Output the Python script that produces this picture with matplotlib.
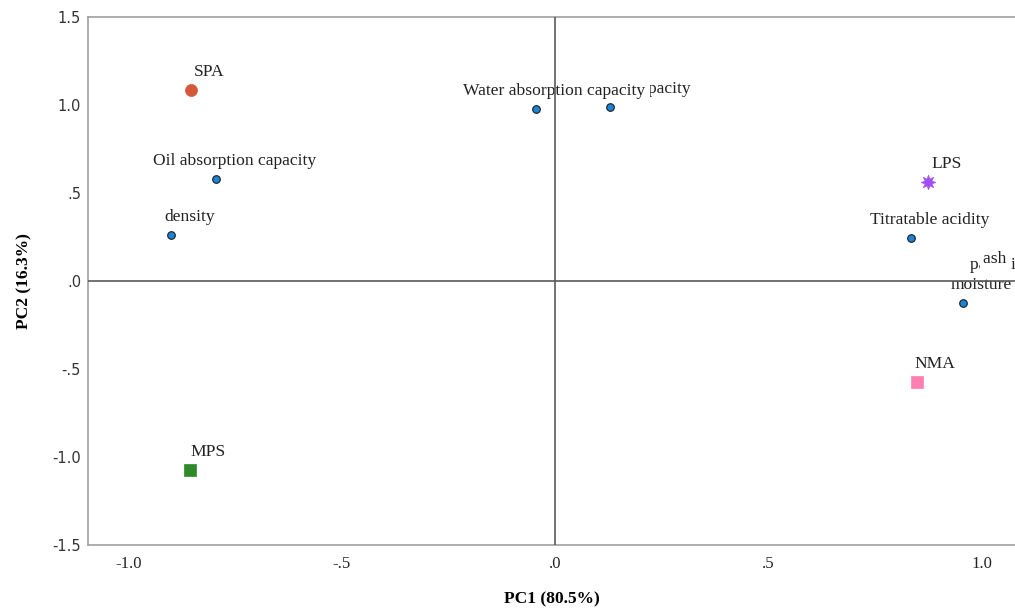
import matplotlib.pyplot as plt

# variable loadings (blue dots)
var_names = ['Water absorption capacity', 'Oil absorption capacity', 'density',
             'Foaming capacity', 'Titratable acidity', 'moisture']
var_x = [-0.044, -0.794, -0.899, 0.129, 0.834, 0.955]
var_y = [0.977, 0.58, 0.261, 0.989, 0.244, -0.125]

# loadings whose dots fall outside the right edge (only label starts visible)
edge_names = ['pasting temperature', 'ash content', 'iron content']
edge_x = [1.25, 1.22, 1.24]
edge_y = [-0.01, 0.02, -0.01]

# sample scores
samples = ['SPA', 'LPS', 'NMA', 'MPS']
sample_x = [-0.852, 0.874, 0.848, -0.855]
sample_y = [1.085, 0.5625, -0.575, -1.075]
sample_marker = ['o', (8, 1, 0), 's', 's']
sample_color = ['#d4583a', '#a24ef5', '#fd7fb4', '#2f8a2a']
sample_size = [75, 110, 75, 70]

xticks = [-1.0, -0.5, 0.0, 0.5, 1.0]
xticklabels = ['-1.0', '-.5', '.0', '.5', '1.0']
yticks = [-1.5, -1.0, -0.5, 0.0, 0.5, 1.0, 1.5]
yticklabels = ['-1.5', '-1.0', '-.5', '.0', '.5', '1.0', '1.5']

fig = plt.figure(figsize=(10.15, 6.08), dpi=100)
ax = fig.add_axes([88 / 1015, 1 - 545 / 608, 1 - 88 / 1015, (545 - 17) / 608])
ax.set_xlim(-1.094, 1.077)
ax.set_ylim(-1.5, 1.5)

serif = 'Liberation Serif'
lab_kw = dict(fontsize=12.6, family=serif, color='#222222', va='center')

# the label offset in SPSS: about 18 px right and 18 px up of the point
dx = 18 / 427
dy = 18 / 176

ax.scatter(var_x, var_y, s=30, c='#1b84d8', edgecolors='#1a1a1a', linewidths=0.8, zorder=4)
order = [3, 0, 1, 2, 4, 5]
for k, i in enumerate(order):
    ax.text(var_x[i] + dx, var_y[i] + dy, var_names[i], ha='center', zorder=2 + k * 0.01,
            bbox=dict(facecolor='white', edgecolor='none', pad=3), **lab_kw)

# labels of the clipped dots start left of their points
ax.scatter(edge_x, edge_y, s=30, c='#1b84d8', edgecolors='#1a1a1a', linewidths=0.8, zorder=4)
edge_shift = [0.278, 0.218, 0.172]
for k, (x, y, name, sh) in enumerate(zip(edge_x, edge_y, edge_names, edge_shift)):
    ax.text(x - sh, y + dy, name, ha='left', zorder=2.1 + k * 0.01,
            bbox=dict(facecolor='white', edgecolor='none', pad=2), **lab_kw)

for x, y, m, c, s, name in zip(sample_x, sample_y, sample_marker, sample_color,
                               sample_size, samples):
    ax.scatter([x], [y], marker=m, s=s, c=c, edgecolors=c, linewidths=0.5, zorder=4)
    ax.text(x + dx, y + dy, name, ha='center', zorder=2, **lab_kw)

ax.axhline(0, color='#5a5a5a', lw=1.2, zorder=3)
ax.axvline(0, color='#5a5a5a', lw=1.2, zorder=3)

for side in ['left', 'bottom', 'top']:
    ax.spines[side].set_color('#a0a0a0')
    ax.spines[side].set_linewidth(1.2)
ax.spines['right'].set_visible(False)

ax.set_xticks(xticks)
ax.set_xticklabels(xticklabels, family=serif, fontsize=12, color='#222222')
ax.set_yticks(yticks)
ax.set_yticklabels(yticklabels, family='DejaVu Sans', fontsize=10.5, color='#333333')
ax.tick_params(length=0, pad=5)
ax.tick_params(axis='x', pad=8)

ax.set_xlabel('PC1 (80.5%)', family=serif, fontweight='bold', fontsize=12.5, labelpad=14)
ax.set_ylabel('PC2 (16.3%)', family=serif, fontweight='bold', fontsize=12.5, labelpad=14)

fig.savefig('out.png', dpi=100)
